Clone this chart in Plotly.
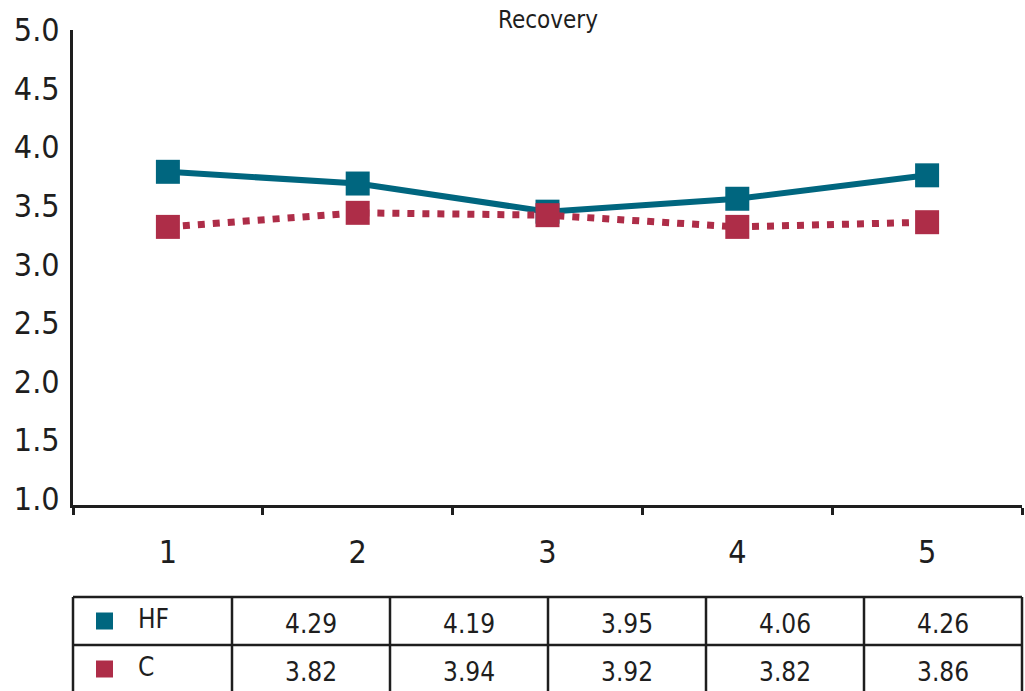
import plotly.graph_objects as go

# Survey rounds and mean recovery scores per group
rounds = ["1", "2", "3", "4", "5"]
hf_scores = [4.29, 4.19, 3.95, 4.06, 4.26]
c_scores = [3.82, 3.94, 3.92, 3.82, 3.86]
group_names = ["HF", "C"]

# The printed scale sits half a point below the plotted values
scale_labels = ["1.0", "1.5", "2.0", "2.5", "3.0", "3.5", "4.0", "4.5", "5.0"]
scale_shift = 0.5

TEAL = "#00667F"
CRIMSON = "#AE2D48"
INK = "#1e1e1e"
FONT = "DejaVu Sans Condensed, DejaVu Sans, sans-serif"

W, H = 1025, 691
M_L, M_R, M_T, M_B = 73, 3, 30, 0
PLOT_W, PLOT_H = W - M_L - M_R, H - M_T - M_B


def px_x(px):
    """Pixel column -> paper x."""
    return (px - M_L) / PLOT_W


def px_y(py):
    """Pixel row -> paper y."""
    return (H - M_B - py) / PLOT_H


fig = go.Figure()

fig.add_trace(go.Scatter(
    x=rounds, y=hf_scores, name=group_names[0], mode="lines+markers",
    line=dict(color=TEAL, width=6),
    marker=dict(symbol="square", size=24, color=TEAL),
))
fig.add_trace(go.Scatter(
    x=rounds, y=c_scores, name=group_names[1], mode="lines+markers",
    line=dict(color=CRIMSON, width=7, dash="7px,8px"),
    marker=dict(symbol="square", size=24, color=CRIMSON),
))

# ---- data table under the chart ----
table_top = 597
row_h = 48
col_widths = [159] + [158] * len(rounds)
col_edges = [M_L]
for cw in col_widths:
    col_edges.append(col_edges[-1] + cw)
table_bottom = table_top + row_h * len(group_names)

shapes = []
line_style = dict(color=INK, width=2.5)
# horizontal rules
for r in range(len(group_names) + 1):
    yy = px_y(table_top + r * row_h)
    shapes.append(dict(type="line", xref="paper", yref="paper",
                       x0=0, x1=1, y0=yy, y1=yy, line=line_style))
# vertical rules
for xe in col_edges:
    xx = px_x(min(xe, M_L + PLOT_W))
    shapes.append(dict(type="line", xref="paper", yref="paper",
                       x0=xx, x1=xx, y0=px_y(table_top), y1=px_y(table_bottom),
                       line=line_style))

annotations = []
series_rows = [(group_names[0], TEAL, hf_scores), (group_names[1], CRIMSON, c_scores)]
for r, (name, color, values) in enumerate(series_rows):
    row_mid = table_top + r * row_h + row_h / 2
    # colour key square
    shapes.append(dict(type="rect", xref="paper", yref="paper",
                       x0=px_x(96), x1=px_x(113),
                       y0=px_y(row_mid - 8.5), y1=px_y(row_mid + 8.5),
                       fillcolor=color, line=dict(width=0)))
    annotations.append(dict(text=name, xref="paper", yref="paper",
                            x=px_x(136), y=px_y(row_mid - 2),
                            xanchor="left", yanchor="middle", showarrow=False,
                            font=dict(family=FONT, size=26, color=INK)))
    for c, v in enumerate(values):
        cx = (col_edges[c + 1] + col_edges[c + 2]) / 2
        annotations.append(dict(text=f"{v:.2f}", xref="paper", yref="paper",
                                x=px_x(cx), y=px_y(row_mid + 3),
                                xanchor="center", yanchor="middle", showarrow=False,
                                font=dict(family=FONT, size=26, color=INK)))

fig.update_layout(
    width=W, height=H,
    margin=dict(l=M_L, r=M_R, t=M_T, b=M_B, autoexpand=False),
    paper_bgcolor="white", plot_bgcolor="white",
    showlegend=False,
    font=dict(family=FONT, color=INK),
    title=dict(text="Recovery", x=(548) / W, xanchor="center", y=0.972, yanchor="middle",
               font=dict(family=FONT, size=24, color=INK)),
    xaxis=dict(
        type="category", range=[-0.5, 4.5],
        showline=True, linecolor=INK, linewidth=3,
        tickson="boundaries", ticks="outside", ticklen=7, tickwidth=3, tickcolor=INK,
        showgrid=False, zeroline=False,
        tickfont=dict(family=FONT, size=32, color=INK),
        ticklabelstandoff=17,
    ),
    yaxis=dict(
        range=[1.447, 5.5], domain=[px_y(505), 1],
        tickvals=[float(s) + scale_shift for s in scale_labels],
        ticktext=scale_labels,
        showline=True, linecolor=INK, linewidth=3,
        ticks="", showgrid=False, zeroline=False,
        tickfont=dict(family=FONT, size=32, color=INK),
        ticklabelstandoff=4,
    ),
    shapes=shapes,
    annotations=annotations,
)

fig.write_html("out.html")
